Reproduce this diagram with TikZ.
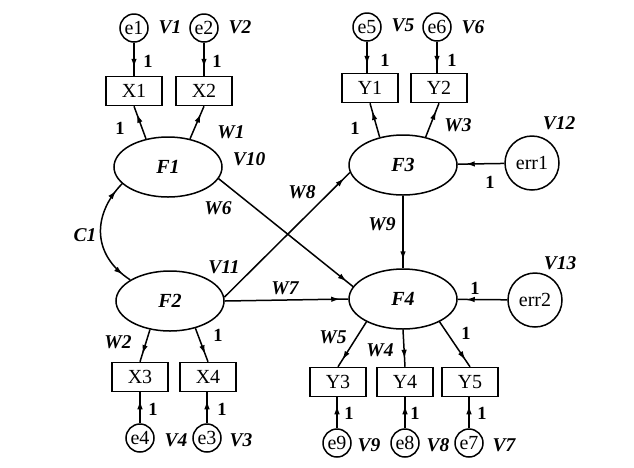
\documentclass[tikz,border=0pt]{standalone}
\usepackage{fontspec}
\setmainfont{Liberation Serif}
\usetikzlibrary{arrows.meta,decorations.markings,shapes.geometric}
\tikzset{
  txt/.style={font=\fontsize{20}{20}\selectfont},
  lab/.style={font=\fontsize{19.5}{19.5}\selectfont\itshape\bfseries, inner sep=0pt},
  one/.style={font=\fontsize{18.5}{18.5}\selectfont\bfseries, inner sep=0pt},
  obs/.style={draw, line width=1.5pt, rectangle, minimum width=56pt, minimum height=29pt, inner sep=0pt, txt},
  err/.style={draw, line width=1.5pt, circle, minimum size=28pt, inner sep=0pt, txt},
  bigerr/.style={draw, line width=1.5pt, circle, minimum size=54pt, inner sep=0pt, txt},
  lat/.style={draw, line width=1.5pt, ellipse, minimum width=108pt, minimum height=60pt, inner sep=0pt, font=\fontsize{20}{20}\selectfont\itshape\bfseries},
  arr/.style={line width=1.5pt, postaction={decorate}, decoration={markings, mark=at position -8pt with {\arrow{Latex[length=9pt,width=5.5pt]}}}},
  dbl/.style={line width=1.5pt, postaction={decorate}, decoration={markings, mark=at position 9pt with {\arrowreversed{Latex[length=9pt,width=5.5pt]}}, mark=at position -9pt with {\arrow{Latex[length=9pt,width=5.5pt]}}}}
}
\begin{document}
\begin{tikzpicture}[x=1pt,y=-1pt]
\useasboundingbox[fill=white] (0,0) rectangle (634,467);
% latent
\node[lat] (F1) at (168,167) {F1};
\node[lat] (F2) at (170,301) {F2};
\node[lat] (F3) at (403,165) {F3};
\node[lat] (F4) at (403,299) {F4};
% observed
\node[obs] (X1) at (134,91) {X1};
\node[obs] (X2) at (204,91) {X2};
\node[obs] (Y1) at (370,88) {Y1};
\node[obs] (Y2) at (439,88) {Y2};
\node[obs] (X3) at (140,377) {X3};
\node[obs] (X4) at (208,377) {X4};
\node[obs] (Y3) at (338,382) {Y3};
\node[obs] (Y4) at (405,382) {Y4};
\node[obs] (Y5) at (470,382) {Y5};
% errors
\node[err] (e1) at (134,28) {e1};
\node[err] (e2) at (204,28) {e2};
\node[err] (e5) at (367,27) {e5};
\node[err] (e6) at (437,27) {e6};
\node[err] (e4) at (140,438) {e4};
\node[err] (e3) at (207,438) {e3};
\node[err] (e9) at (337,443) {e9};
\node[err] (e8) at (405,443) {e8};
\node[err] (e7) at (469,443) {e7};
\node[bigerr] (r1) at (532,163) {err1};
\node[bigerr] (r2) at (535,300) {err2};
% error arrows
\draw[arr] (e1) -- (X1);
\draw[arr] (e2) -- (X2);
\draw[arr] (e5.south) -- (e5.south |- Y1.north);
\draw[arr] (e6.south) -- (e6.south |- Y2.north);
\draw[arr] (e4) -- (X3);
\draw[arr] (e3.north) -- (e3.north |- X4.south);
\draw[arr] (e9.north) -- (e9.north |- Y3.south);
\draw[arr] (e8) -- (Y4);
\draw[arr] (e7.north) -- (e7.north |- Y5.south);
\draw[arr] (r1) -- (F3);
\draw[arr] (r2) -- (F4);
% loadings
\draw[arr] (F1.128) -- (X1.south);
\draw[arr] (F1.52) -- (X2.south);
\draw[arr] (F3.130) -- (Y1.south);
\draw[arr] (F3.51) -- (Y2.south);
\draw[arr] (F2.235) -- (X3.north);
\draw[arr] (F2.313) -- (X4.north);
\draw[arr] (F4.212) -- (Y3.north);
\draw[arr] (F4.270) -- (Y4.north);
\draw[arr] (F4.328) -- (Y5.north);
% structural
\draw[arr] (F1.347) -- (F4.166);
\draw[arr] (F2.4) -- (F3.188);
\draw[arr] (F2.east) -- (F4.west);
\draw[arr] (F3.south) -- (F4.north);
\draw[dbl] (F1.200) .. controls (92,215) and (92,255) .. (F2.152);
% labels
\node[lab] (lV1) at (170,27) {V1};
\node[lab] (lV2) at (240,27) {V2};
\node[lab] (lV5) at (403,25) {V5};
\node[lab] (lV6) at (473,27) {V6};
\node[one] (o1) at (148,61) {1};
\node[one] (o2) at (217,61) {1};
\node[one] (o5) at (385,60) {1};
\node[one] (o6) at (452,60) {1};
\node[one] (o7) at (120,128) {1};
\node[lab] (lW1) at (231,132) {W1};
\node[lab] (lV10) at (249,159) {V10};
\node[one] (o8) at (355,128) {1};
\node[lab] (lW3) at (458,125) {W3};
\node[lab] (lV12) at (559,123) {V12};
\node[one] (o9) at (490,182) {1};
\node[lab] (lW8) at (302,192) {W8};
\node[lab] (lW6) at (218,208) {W6};
\node[lab] (lV11) at (224,267) {V11};
\node[lab] (lW7) at (285,288) {W7};
\node[lab] (lW9) at (382,224) {W9};
\node[lab] (lC1) at (85,235) {C1};
\node[lab] (lW2) at (118,342) {W2};
\node[one] (o10) at (218,335) {1};
\node[one] (o11) at (153,409) {1};
\node[one] (o12) at (222,409) {1};
\node[lab] (lV4) at (176,440) {V4};
\node[lab] (lV3) at (241,440) {V3};
\node[lab] (lV13) at (560,263) {V13};
\node[one] (o13) at (475,288) {1};
\node[lab] (lW5) at (333,337) {W5};
\node[lab] (lW4) at (380,350) {W4};
\node[one] (o14) at (466,333) {1};
\node[one] (o15) at (349,413) {1};
\node[one] (o16) at (415,413) {1};
\node[one] (o17) at (482,413) {1};
\node[lab] (lV9) at (369,445) {V9};
\node[lab] (lV8) at (438,445) {V8};
\node[lab] (lV7) at (504,445) {V7};
\end{tikzpicture}
\end{document}
